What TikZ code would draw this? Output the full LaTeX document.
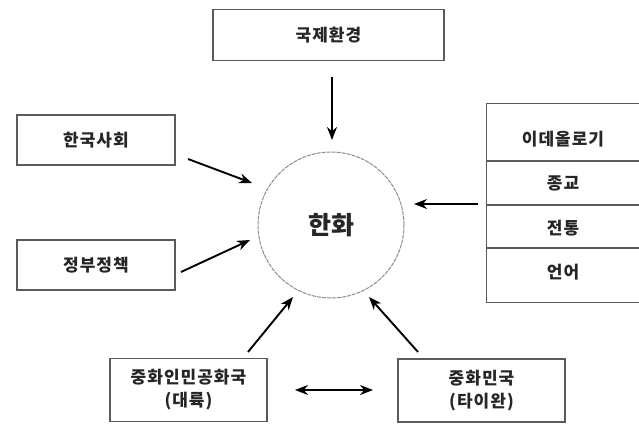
\documentclass[tikz,border=0pt]{standalone}
\usepackage{fontspec}
\setmainfont{Noto Sans CJK KR}
\usetikzlibrary{arrows.meta}
\definecolor{ink}{HTML}{262626}
\definecolor{frame}{HTML}{5A5A5A}
\tikzset{
  lbl/.style={font=\fontsize{17}{23}\selectfont\bfseries\addfontfeatures{LetterSpace=6}, text=ink, align=center},
  boxnode/.style={lbl, draw=frame, line width=1.3pt, inner sep=0pt},
  arr/.style={-{Stealth[length=13pt,width=10pt]}, line width=1.9pt, black},
  darr/.style={{Stealth[length=13pt,width=10pt]}-{Stealth[length=13pt,width=10pt]}, line width=1.9pt, black},
}
\begin{document}
\begin{tikzpicture}[x=1pt,y=-1pt]
\useasboundingbox (0,0) rectangle (639,424);
\fill[white] (0,0) rectangle (639,424);
% centre circle
\node[circle, draw=black!45, dashed, dash pattern=on 4pt off 1pt, line width=1pt, minimum size=146pt, inner sep=0pt,
      font=\fontsize{25}{28}\selectfont\bfseries, text=ink] (hw) at (331,225) {한화};
% boxes
\node[boxnode, minimum width=231pt, minimum height=51pt] (intl) at (328.5,35) {국제환경};
\node[boxnode, minimum width=158pt, minimum height=50pt] (ks) at (96,140) {한국사회};
\node[boxnode, minimum width=158pt, minimum height=50pt] (gov) at (96,265) {정부정책};
\node[boxnode, minimum width=157pt, minimum height=63pt] (prc) at (188.5,390) {중화인민공화국\\(대륙)};
\node[boxnode, minimum width=167pt, minimum height=63pt] (roc) at (481.5,390.5) {중화민국\\(타이완)};
% right stacked box (open to the right edge)
\node[minimum width=160pt, minimum height=198pt, inner sep=0pt] (ideo) at (567,203) {};
\draw[frame, line width=1.3pt] (ideo.north east) -- (ideo.north west) -- (ideo.south west) -- (ideo.south east);
\draw[frame, line width=1.1pt] (487,161) -- (ideo.east |- 0,161);
\draw[frame, line width=1.1pt] (487,205) -- (ideo.east |- 0,205);
\draw[frame, line width=1.1pt] (487,248) -- (ideo.east |- 0,248);
\node[lbl] (c1) at (563,139) {이데올로기};
\node[lbl] (c2) at (563,183) {종교};
\node[lbl] (c3) at (563,228) {전통};
\node[lbl] (c4) at (563,272) {언어};
% connector ends
\coordinate (a0s) at (332,77);   \coordinate (a0e) at (332,140);
\coordinate (a1s) at (188,159);  \coordinate (a1e) at (252,183);
\coordinate (a2s) at (181,272);  \coordinate (a2e) at (250,240);
\coordinate (a3s) at (478,204);  \coordinate (a3e) at (414,204);
\coordinate (a4s) at (248,352);  \coordinate (a4e) at (293,297);
\coordinate (a5s) at (418,352);  \coordinate (a5e) at (369,297);
\coordinate (a6s) at (295,390);  \coordinate (a6e) at (373,390);
\draw[arr] (a0s) -- (a0e);
\draw[arr] (a1s) -- (a1e);
\draw[arr] (a2s) -- (a2e);
\draw[arr] (a3s) -- (a3e);
\draw[arr] (a4s) -- (a4e);
\draw[arr] (a5s) -- (a5e);
\draw[darr] (a6s) -- (a6e);
\end{tikzpicture}
\end{document}
